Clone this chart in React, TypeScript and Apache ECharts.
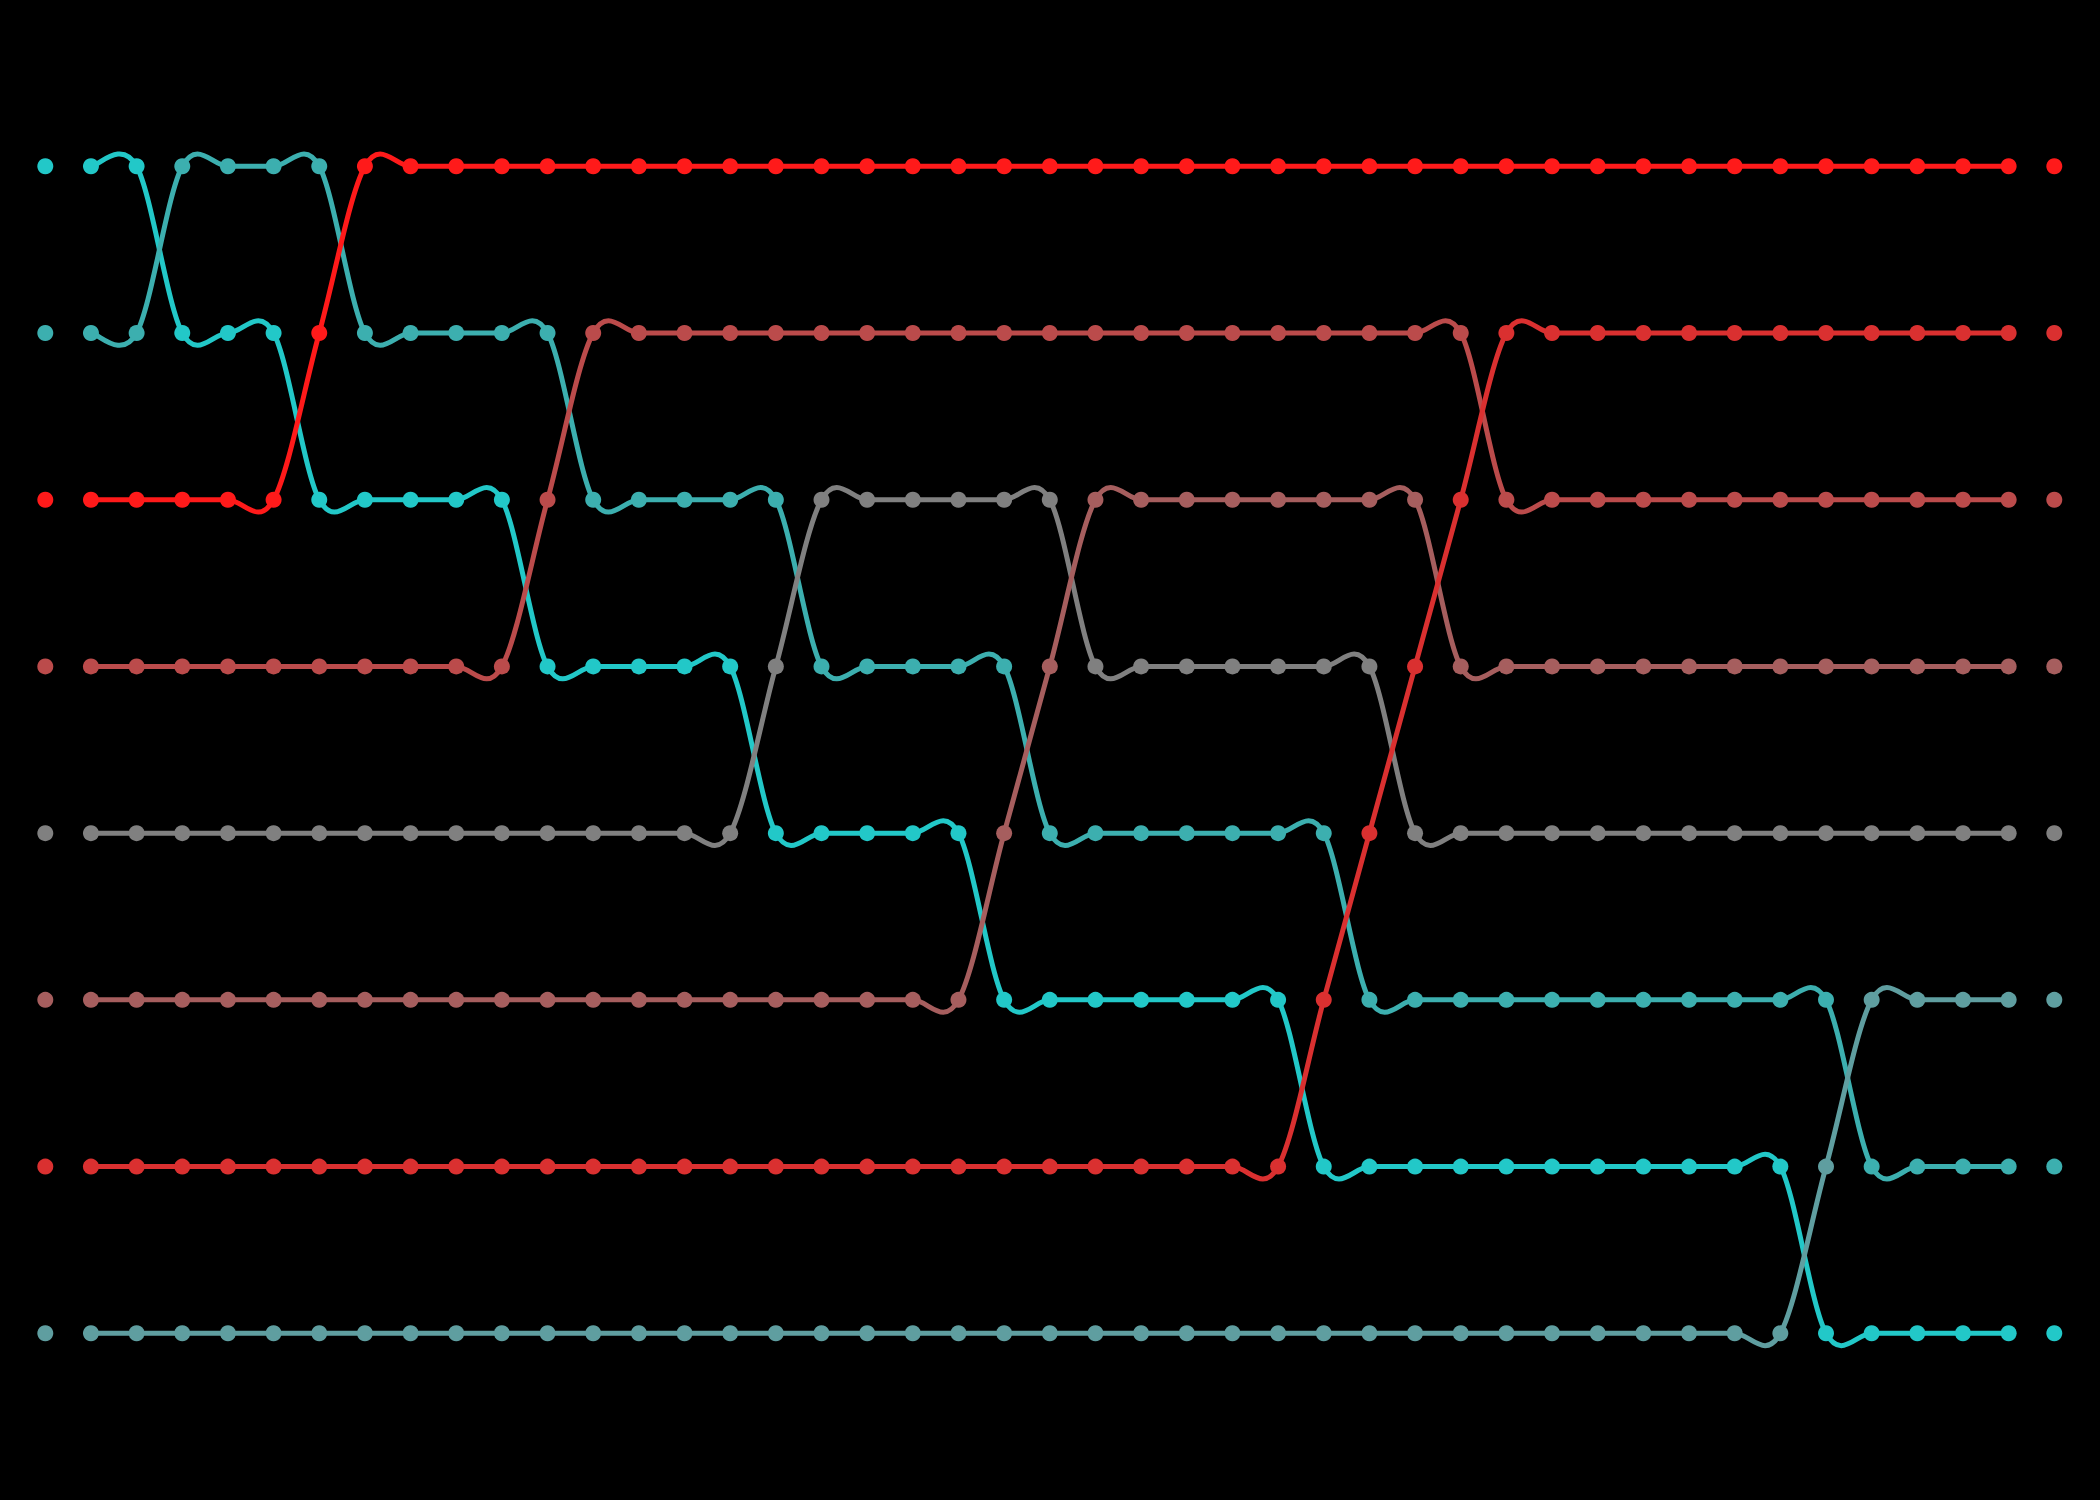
import React, { useEffect, useRef } from "react";
import * as echarts from "echarts";

const steps: string[] = Array.from({ length: 45 }, (_, i) => String(i + 1));

const seriesNames = ["A", "B", "C", "D", "E", "F", "G", "H"];
const seriesColors = ["#22c8c8", "#3cafaf", "#ff1a1a", "#bb4b4b", "#808080", "#a65e5e", "#da3030", "#5f9ea0"];

const rankA = [1,1,1, 2,2,2, 3,3,3,3,3, 4,4,4,4,4, 5,5,5,5,5, 6,6,6,6,6,6,6, 7,7,7,7,7,7,7,7,7,7,7, 8,8,8,8,8,8];
const rankB = [2,2,2, 1,1,1,1, 2,2,2,2,2, 3,3,3,3,3, 4,4,4,4,4, 5,5,5,5,5,5,5, 6,6,6,6,6,6,6,6,6,6,6, 7,7,7,7,7];
const rankC = [3,3,3,3,3,3, 2, 1,1,1,1,1,1,1,1,1,1,1,1,1,1,1,1,1,1,1,1,1,1,1,1,1,1,1,1,1,1,1,1,1,1,1,1,1,1];
const rankD = [4,4,4,4,4,4,4,4,4,4,4, 3, 2,2,2,2,2,2,2,2,2,2,2,2,2,2,2,2,2,2,2,2, 3,3,3,3,3,3,3,3,3,3,3,3,3];
const rankE = [5,5,5,5,5,5,5,5,5,5,5,5,5,5,5,5, 4, 3,3,3,3,3,3, 4,4,4,4,4,4,4, 5,5,5,5,5,5,5,5,5,5,5,5,5,5,5];
const rankF = [6,6,6,6,6,6,6,6,6,6,6,6,6,6,6,6,6,6,6,6,6, 5, 4, 3,3,3,3,3,3,3,3, 4,4,4,4,4,4,4,4,4,4,4,4,4,4];
const rankG = [7,7,7,7,7,7,7,7,7,7,7,7,7,7,7,7,7,7,7,7,7,7,7,7,7,7,7,7, 6, 5, 4, 3, 2,2,2,2,2,2,2,2,2,2,2,2,2];
const rankH = [8,8,8,8,8,8,8,8,8,8,8,8,8,8,8,8,8,8,8,8,8,8,8,8,8,8,8,8,8,8,8,8,8,8,8,8,8,8,8, 7, 6,6,6,6,6];

const allRanks = [rankA, rankB, rankC, rankD, rankE, rankF, rankG, rankH];

export default function App() {
  const ref = useRef<HTMLDivElement>(null);
  useEffect(() => {
    if (!ref.current) return;
    const chart = echarts.init(ref.current, null, { renderer: "svg" });
    const last = steps.length - 1;
    const first = 1;
    const lastLine = last - 1;

    const lineSeries: any[] = allRanks.map((r, k) => {
      const segs: number[][] = [];
      for (let i = first; i < lastLine; i++) {
        const a = Math.max(i - 1, first);
        const d = Math.min(i + 2, lastLine);
        segs.push([i, r[i], r[i + 1], a, r[a], d, r[d]]);
      }
      const color = seriesColors[k];
      return {
        name: seriesNames[k],
        type: "custom",
        encode: { x: 0, y: 1 },
        z: 2,
        data: segs,
        renderItem: (_params: any, api: any) => {
          const i = api.value(0);
          const p1 = api.coord([i, api.value(1)]);
          const p2 = api.coord([i + 1, api.value(2)]);
          const p0 = api.coord([api.value(3), api.value(4)]);
          const p3 = api.coord([api.value(5), api.value(6)]);
          return {
            type: "bezierCurve",
            shape: {
              x1: p1[0],
              y1: p1[1],
              x2: p2[0],
              y2: p2[1],
              cpx1: p1[0] + (p2[0] - p0[0]) / 6,
              cpy1: p1[1] + (p2[1] - p0[1]) / 6,
              cpx2: p2[0] - (p3[0] - p1[0]) / 6,
              cpy2: p2[1] - (p3[1] - p1[1]) / 6,
            },
            style: { stroke: color, lineWidth: 5, fill: "none", lineCap: "round" },
          };
        },
      };
    });

    const dotSeries: any[] = allRanks.map((r, k) => ({
      name: seriesNames[k],
      type: "scatter",
      symbol: "circle",
      symbolSize: 16,
      data: r.map((v, i) => [i, v]),
      itemStyle: { color: seriesColors[k], opacity: 1 },
      z: 3,
    }));

    chart.setOption({
      animation: false,
      backgroundColor: "#000000",
      grid: { left: 45.3, right: 45.7, top: 166.3, bottom: 166.7, containLabel: false },
      xAxis: {
        type: "category",
        data: steps,
        boundaryGap: false,
        show: false,
      },
      yAxis: {
        type: "value",
        inverse: true,
        min: 1,
        max: 8,
        show: false,
        splitLine: { show: false },
      },
      series: [...lineSeries, ...dotSeries],
    });
    return () => chart.dispose();
  }, []);
  return (
    <div
      ref={ref}
      style={{ position: "fixed", left: 0, top: 0, width: 2100, height: 1500, background: "#000" }}
    />
  );
}
